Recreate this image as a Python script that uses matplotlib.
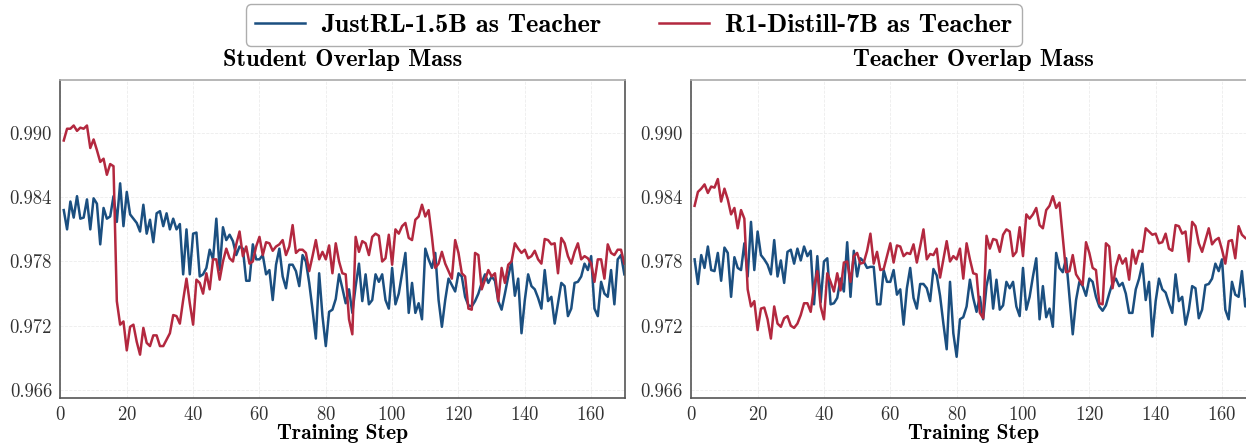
import numpy as np
import matplotlib
matplotlib.use("Agg")
import matplotlib.pyplot as plt

steps = np.arange(1, 171)

student_red = [
    0.9893, 0.9904, 0.9904, 0.9907, 0.9902, 0.9905, 0.9904, 0.9907, 0.9886, 0.9894,
    0.9884, 0.9873, 0.9876, 0.9861, 0.9871, 0.9869, 0.9743, 0.9721, 0.9724, 0.9697,
    0.9719, 0.9721, 0.9705, 0.9693, 0.9718, 0.9704, 0.9701, 0.9711, 0.9711, 0.9701,
    0.9701, 0.9707, 0.9713, 0.9730, 0.9729, 0.9722, 0.9744, 0.9764, 0.9741, 0.9721,
    0.9763, 0.9760, 0.9750, 0.9769, 0.9754, 0.9782, 0.9782, 0.9763, 0.9780, 0.9792,
    0.9783, 0.9780, 0.9796, 0.9808, 0.9785, 0.9794, 0.9778, 0.9780, 0.9794, 0.9803,
    0.9786, 0.9798, 0.9797, 0.9790, 0.9794, 0.9796, 0.9800, 0.9786, 0.9794, 0.9814,
    0.9788, 0.9791, 0.9791, 0.9788, 0.9771, 0.9785, 0.9800, 0.9782, 0.9789, 0.9782,
    0.9795, 0.9769, 0.9797, 0.9780, 0.9769, 0.9768, 0.9726, 0.9712, 0.9803, 0.9789,
    0.9799, 0.9797, 0.9786, 0.9803, 0.9806, 0.9804, 0.9780, 0.9783, 0.9805, 0.9777,
    0.9810, 0.9806, 0.9813, 0.9816, 0.9802, 0.9800, 0.9819, 0.9822, 0.9833, 0.9822,
    0.9828, 0.9803, 0.9774, 0.9778, 0.9789, 0.9778, 0.9771, 0.9764, 0.9800, 0.9788,
    0.9769, 0.9766, 0.9736, 0.9735, 0.9788, 0.9786, 0.9754, 0.9763, 0.9772, 0.9766,
    0.9769, 0.9743, 0.9774, 0.9760, 0.9777, 0.9780, 0.9797, 0.9792, 0.9788, 0.9791,
    0.9783, 0.9785, 0.9790, 0.9782, 0.9778, 0.9801, 0.9800, 0.9796, 0.9797, 0.9769,
    0.9802, 0.9797, 0.9785, 0.9778, 0.9789, 0.9797, 0.9782, 0.9785, 0.9783, 0.9778,
    0.9761, 0.9782, 0.9782, 0.9764, 0.9796, 0.9788, 0.9786, 0.9791, 0.9791, 0.9778,
]

student_blue = [
    0.9828, 0.9810, 0.9836, 0.9821, 0.9841, 0.9820, 0.9821, 0.9838, 0.9810, 0.9839,
    0.9834, 0.9796, 0.9830, 0.9820, 0.9822, 0.9841, 0.9817, 0.9853, 0.9813, 0.9845,
    0.9824, 0.9820, 0.9816, 0.9808, 0.9833, 0.9806, 0.9819, 0.9798, 0.9825, 0.9827,
    0.9813, 0.9825, 0.9810, 0.9820, 0.9810, 0.9815, 0.9768, 0.9810, 0.9768, 0.9806,
    0.9807, 0.9766, 0.9768, 0.9774, 0.9791, 0.9782, 0.9820, 0.9772, 0.9812, 0.9800,
    0.9805, 0.9799, 0.9786, 0.9794, 0.9792, 0.9762, 0.9762, 0.9796, 0.9782, 0.9782,
    0.9786, 0.9768, 0.9772, 0.9744, 0.9777, 0.9792, 0.9766, 0.9755, 0.9777, 0.9777,
    0.9771, 0.9757, 0.9786, 0.9780, 0.9760, 0.9735, 0.9708, 0.9769, 0.9729, 0.9701,
    0.9733, 0.9735, 0.9745, 0.9768, 0.9755, 0.9741, 0.9754, 0.9732, 0.9757, 0.9778,
    0.9743, 0.9768, 0.9740, 0.9744, 0.9768, 0.9761, 0.9768, 0.9744, 0.9736, 0.9774,
    0.9740, 0.9750, 0.9769, 0.9788, 0.9732, 0.9760, 0.9732, 0.9741, 0.9726, 0.9792,
    0.9782, 0.9774, 0.9788, 0.9744, 0.9719, 0.9744, 0.9764, 0.9758, 0.9752, 0.9769,
    0.9766, 0.9747, 0.9739, 0.9738, 0.9743, 0.9750, 0.9760, 0.9768, 0.9760, 0.9766,
    0.9762, 0.9743, 0.9735, 0.9750, 0.9766, 0.9780, 0.9748, 0.9764, 0.9713, 0.9744,
    0.9768, 0.9757, 0.9754, 0.9746, 0.9736, 0.9772, 0.9743, 0.9747, 0.9722, 0.9741,
    0.9760, 0.9757, 0.9729, 0.9736, 0.9760, 0.9761, 0.9766, 0.9778, 0.9772, 0.9785,
    0.9736, 0.9729, 0.9761, 0.9750, 0.9747, 0.9772, 0.9740, 0.9782, 0.9786, 0.9768,
]

teacher_red = [
    0.9832, 0.9845, 0.9848, 0.9852, 0.9844, 0.9850, 0.9849, 0.9857, 0.9836, 0.9848,
    0.9838, 0.9824, 0.9830, 0.9811, 0.9828, 0.9820, 0.9754, 0.9738, 0.9743, 0.9716,
    0.9736, 0.9737, 0.9726, 0.9708, 0.9738, 0.9722, 0.9719, 0.9727, 0.9729, 0.9720,
    0.9718, 0.9722, 0.9730, 0.9741, 0.9741, 0.9733, 0.9757, 0.9771, 0.9738, 0.9726,
    0.9769, 0.9761, 0.9752, 0.9769, 0.9753, 0.9779, 0.9780, 0.9761, 0.9785, 0.9788,
    0.9778, 0.9779, 0.9790, 0.9806, 0.9778, 0.9789, 0.9772, 0.9773, 0.9785, 0.9797,
    0.9779, 0.9795, 0.9794, 0.9785, 0.9788, 0.9787, 0.9796, 0.9779, 0.9794, 0.9810,
    0.9782, 0.9787, 0.9786, 0.9792, 0.9765, 0.9782, 0.9799, 0.9780, 0.9785, 0.9782,
    0.9792, 0.9764, 0.9797, 0.9782, 0.9769, 0.9768, 0.9732, 0.9727, 0.9804, 0.9792,
    0.9801, 0.9800, 0.9789, 0.9805, 0.9810, 0.9808, 0.9785, 0.9789, 0.9812, 0.9785,
    0.9824, 0.9820, 0.9824, 0.9830, 0.9814, 0.9811, 0.9828, 0.9832, 0.9841, 0.9830,
    0.9835, 0.9803, 0.9770, 0.9771, 0.9786, 0.9768, 0.9763, 0.9758, 0.9798, 0.9788,
    0.9774, 0.9772, 0.9741, 0.9740, 0.9797, 0.9794, 0.9755, 0.9775, 0.9786, 0.9778,
    0.9783, 0.9763, 0.9791, 0.9778, 0.9790, 0.9789, 0.9811, 0.9808, 0.9805, 0.9806,
    0.9797, 0.9798, 0.9806, 0.9792, 0.9790, 0.9814, 0.9813, 0.9806, 0.9808, 0.9780,
    0.9817, 0.9813, 0.9797, 0.9789, 0.9800, 0.9811, 0.9796, 0.9800, 0.9802, 0.9791,
    0.9778, 0.9799, 0.9800, 0.9783, 0.9813, 0.9805, 0.9802, 0.9800, 0.9798, 0.9801,
]

teacher_blue = [
    0.9782, 0.9759, 0.9786, 0.9774, 0.9794, 0.9772, 0.9771, 0.9788, 0.9762, 0.9793,
    0.9788, 0.9747, 0.9784, 0.9774, 0.9772, 0.9797, 0.9766, 0.9817, 0.9772, 0.9808,
    0.9786, 0.9782, 0.9777, 0.9768, 0.9800, 0.9766, 0.9781, 0.9760, 0.9789, 0.9791,
    0.9778, 0.9792, 0.9781, 0.9794, 0.9785, 0.9790, 0.9740, 0.9785, 0.9742, 0.9780,
    0.9783, 0.9740, 0.9741, 0.9746, 0.9764, 0.9752, 0.9798, 0.9747, 0.9790, 0.9766,
    0.9783, 0.9780, 0.9774, 0.9775, 0.9775, 0.9740, 0.9740, 0.9772, 0.9761, 0.9761,
    0.9772, 0.9749, 0.9754, 0.9721, 0.9755, 0.9774, 0.9746, 0.9736, 0.9759, 0.9759,
    0.9755, 0.9743, 0.9773, 0.9767, 0.9748, 0.9722, 0.9698, 0.9761, 0.9713, 0.9691,
    0.9726, 0.9728, 0.9738, 0.9763, 0.9746, 0.9733, 0.9747, 0.9726, 0.9757, 0.9772,
    0.9736, 0.9763, 0.9735, 0.9739, 0.9761, 0.9755, 0.9761, 0.9738, 0.9729, 0.9774,
    0.9735, 0.9747, 0.9766, 0.9783, 0.9726, 0.9757, 0.9728, 0.9736, 0.9719, 0.9788,
    0.9774, 0.9770, 0.9783, 0.9747, 0.9712, 0.9744, 0.9761, 0.9757, 0.9748, 0.9764,
    0.9761, 0.9747, 0.9738, 0.9734, 0.9739, 0.9750, 0.9760, 0.9764, 0.9757, 0.9760,
    0.9750, 0.9732, 0.9732, 0.9754, 0.9764, 0.9778, 0.9744, 0.9761, 0.9710, 0.9743,
    0.9764, 0.9754, 0.9751, 0.9741, 0.9732, 0.9768, 0.9743, 0.9747, 0.9721, 0.9735,
    0.9757, 0.9755, 0.9727, 0.9735, 0.9758, 0.9759, 0.9764, 0.9778, 0.9771, 0.9782,
    0.9735, 0.9726, 0.9761, 0.9749, 0.9747, 0.9771, 0.9738, 0.9752, 0.9768, 0.9740,
]

labels = ["JustRL-1.5B as Teacher", "R1-Distill-7B as Teacher"]
titles = ["Student Overlap Mass", "Teacher Overlap Mass"]
yticks = [0.966, 0.972, 0.978, 0.984, 0.990]
xticks = [0, 20, 40, 60, 80, 100, 120, 140, 160]

blue = "#1b4f80"
red = "#b3283f"

plt.rcParams["font.family"] = "cmr10"
plt.rcParams["axes.formatter.use_mathtext"] = True

fig = plt.figure(figsize=(12.46, 4.45), dpi=100)
ax1 = fig.add_axes([0.0485, 0.1056, 0.4531, 0.7146])
ax2 = fig.add_axes([0.5548, 0.1056, 0.4531, 0.7146])

panels = [(ax1, student_blue, student_red), (ax2, teacher_blue, teacher_red)]
for i, (ax, b, r) in enumerate(panels):
    ax.plot(steps, b, color=blue, lw=1.8, label=labels[0])
    ax.plot(steps, r, color=red, lw=1.8, label=labels[1])
    ax.set_xlim(0, 170.2)
    ax.set_ylim(0.96525, 0.99495)
    ax.set_xticks(xticks)
    ax.set_yticks(yticks)
    ax.set_yticklabels([f"{v:.3f}" for v in yticks])
    ax.tick_params(length=0, labelsize=13.5, pad=6, colors="#333333")
    ax.grid(True, ls="--", lw=0.6, color="#ececec")
    for s in ax.spines.values():
        s.set_color("#555555")
        s.set_linewidth(1.2)
    ax.spines["top"].set_color("#aaaaaa")
    ax.set_title(titles[i], fontfamily="cmb10", fontsize=17.5, pad=10)
    ax.set_xlabel("Training Step", fontfamily="cmb10", fontsize=15.5, labelpad=0)

handles, _ = ax1.get_legend_handles_labels()
fig.legend(handles, labels, loc="upper center", bbox_to_anchor=(0.5085, 1.02), ncol=2,
           prop={"family": "cmb10", "size": 19}, frameon=True, edgecolor="#999999",
           fancybox=True, columnspacing=2.2, handlelength=1.9, handletextpad=0.6,
           borderpad=0.35)

fig.savefig("out.png", dpi=100)
